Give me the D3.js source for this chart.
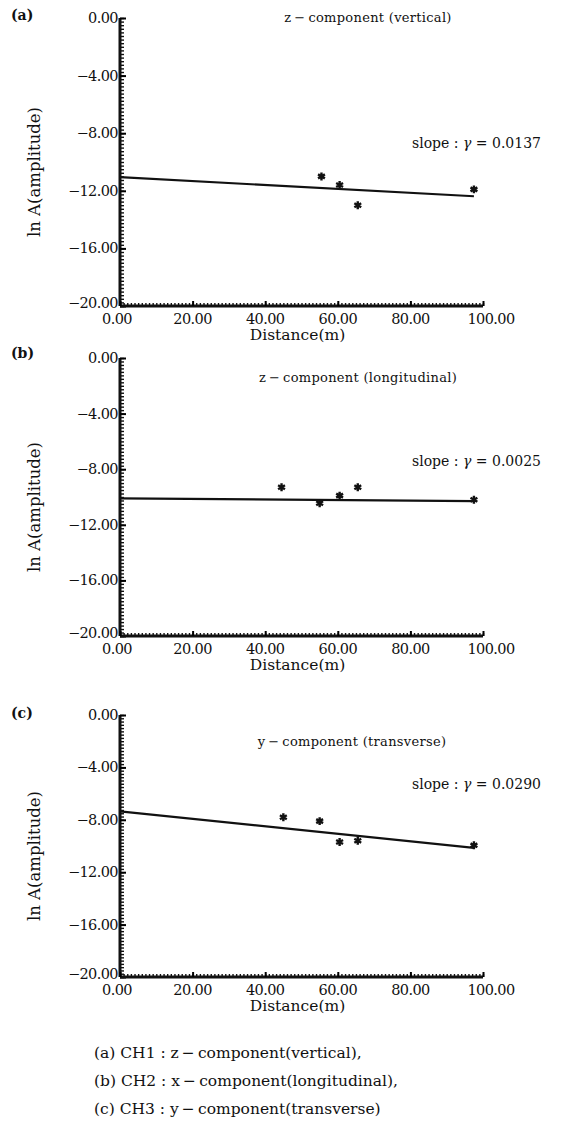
<!DOCTYPE html>
<html>
<head>
<meta charset="utf-8">
<script src="https://cdn.jsdelivr.net/npm/d3@7"></script>
<style>
  body { margin: 0; background: #fff; }
  svg text { font-family: "DejaVu Serif", "Liberation Serif", serif; fill: #111; }
</style>
</head>
<body>
<div id="chart"></div>
<script>
// panel data
var panelTags = ["(a)", "(b)", "(c)"];
var panelTitles = ["z\u2009\u2212\u2009component (vertical)", "z\u2009\u2212\u2009component (longitudinal)", "y\u2009\u2212\u2009component (transverse)"];
var slopeValues = ["0.0137", "0.0025", "0.0290"];

var distA = [55.5, 60.5, 65.5, 97.5];
var ampA = [-11.0, -11.6, -13.0, -11.9];
var distB = [44.5, 55, 60.5, 65.5, 97.5];
var ampB = [-9.3, -10.45, -9.9, -9.3, -10.2];
var distC = [45, 55, 60.5, 65.5, 97.5];
var ampC = [-7.8, -8.1, -9.7, -9.6, -9.95];

// fitted lines: [start x, start y, end x, end y]
var fitA = [[0, -11.05], [97.5, -12.38]];
var fitB = [[0, -10.1], [97.5, -10.3]];
var fitC = [[0, -7.35], [97.5, -10.15]];

var xTicks = [0, 20, 40, 60, 80, 100];
var xTickLabels = ["0.00", "20.00", "40.00", "60.00", "80.00", "100.00"];
var yTicks = [0, -4, -8, -12, -16, -20];
var yTickLabels = ["0.00", "\u22124.00", "\u22128.00", "\u221212.00", "\u221216.00", "\u221220.00"];

var captions = [
  "(a) CH1 : z\u2009\u2212\u2009component(vertical),",
  "(b) CH2 : x\u2009\u2212\u2009component(longitudinal),",
  "(c) CH3 : y\u2009\u2212\u2009component(transverse)"
];

var svgWidth = 565;
var svgHeight = 1136;

var svg = d3.select("#chart").append("svg")
  .attr("width", svgWidth)
  .attr("height", svgHeight);

// pixel frame of each panel (y top = 0.00, y bottom = -20.00)
var panels = [
  { top: 18, bottom: 306, dist: distA, amp: ampA, fit: fitA, tagY: 20, titleY: 22, slopeY: 148 },
  { top: 358, bottom: 636, dist: distB, amp: ampB, fit: fitB, tagY: 358, titleY: 382, slopeY: 466 },
  { top: 715, bottom: 977, dist: distC, amp: ampC, fit: fitC, tagY: 718, titleY: 746, slopeY: 789 }
];
var left = 120, right = 483;

panels.forEach(function(p, i) {
  var g = svg.append("g");

  var x = d3.scaleLinear().domain([0, 100]).range([left, right]);
  var y = d3.scaleLinear().domain([-20, 0]).range([p.bottom, p.top]);

  // minor ticks on the inside of the y axis
  g.append("g")
    .attr("transform", "translate(" + left + ",0)")
    .call(d3.axisRight(y).tickValues(d3.range(-20, 0.01, 0.25)).tickSize(4).tickFormat(""))
    .call(function(a) { a.select(".domain").remove(); })
    .selectAll("line").attr("stroke", "#111").attr("stroke-width", 1.4);

  // y axis
  g.append("g")
    .attr("transform", "translate(" + left + ",0)")
    .call(d3.axisRight(y).tickValues(yTicks).tickSize(6).tickFormat(""))
    .call(function(a) {
      a.select(".domain").attr("stroke", "#111").attr("stroke-width", 3).attr("d", "M0," + p.top + "V" + p.bottom);
      a.selectAll("line").attr("stroke-width", 2);
    });

  g.selectAll(".ylab")
    .data(yTicks)
    .enter()
    .append("text")
    .attr("x", left - 2)
    .attr("y", function(d) { return y(d) + (d === -20 ? 2 : 5); })
    .attr("text-anchor", "end")
    .style("font-size", "14.5px")
    .style("letter-spacing", "-0.6px")
    .text(function(d, k) { return yTickLabels[k]; });

  // minor ticks on the inside of the x axis
  g.append("g")
    .attr("transform", "translate(0," + p.bottom + ")")
    .call(d3.axisTop(x).tickValues(d3.range(0, 100.01, 1)).tickSize(3).tickFormat(""))
    .call(function(a) { a.select(".domain").remove(); })
    .selectAll("line").attr("stroke", "#111").attr("stroke-width", 1.4);

  g.append("g")
    .attr("transform", "translate(0," + p.bottom + ")")
    .call(d3.axisTop(x).tickValues(xTicks).tickSize(5).tickFormat(""))
    .call(function(a) {
      a.select(".domain").attr("stroke", "#111").attr("stroke-width", 3).attr("d", "M" + left + ",0H" + right);
      a.selectAll("line").attr("stroke-width", 2);
    });

  g.selectAll(".xlab")
    .data(xTicks)
    .enter()
    .append("text")
    .attr("x", function(d) { return x(d) + (d === 100 ? 8 : (d === 0 ? -3 : 0)); })
    .attr("y", p.bottom + 18)
    .attr("text-anchor", "middle")
    .style("font-size", "14.5px")
    .style("letter-spacing", "-0.6px")
    .text(function(d, k) { return xTickLabels[k]; });

  // axis titles
  g.append("text")
    .attr("x", (left + right) / 2 - 4)
    .attr("y", p.bottom + 34)
    .attr("text-anchor", "middle")
    .style("font-size", "15.5px")
    .text("Distance(m)");

  g.append("text")
    .attr("transform", "translate(40," + ((p.top + p.bottom) / 2 + 10) + ") rotate(-90)")
    .attr("text-anchor", "middle")
    .style("font-size", "16.5px")
    .text("ln A(amplitude)");

  // panel tag and title
  g.append("text")
    .attr("x", 11)
    .attr("y", p.tagY)
    .style("font-size", "14px")
    .style("font-weight", "bold")
    .text(panelTags[i]);

  g.append("text")
    .attr("x", 368 - (i === 2 ? 16 : (i === 1 ? 10 : 0)))
    .attr("y", p.titleY)
    .attr("text-anchor", "middle")
    .style("font-size", "13px")
    .style("letter-spacing", "0.3px")
    .text(panelTitles[i]);

  var slope = g.append("text")
    .attr("x", 412)
    .attr("y", p.slopeY)
    .style("font-size", "14px");
  slope.append("tspan").text("slope : ");
  slope.append("tspan").style("font-style", "italic").text("\u03b3");
  slope.append("tspan").text(" = " + slopeValues[i]);

  // fitted line
  var line = d3.line()
    .x(function(d) { return x(d[0]); })
    .y(function(d) { return y(d[1]); });

  g.append("path")
    .datum(p.fit)
    .attr("d", line)
    .attr("fill", "none")
    .attr("stroke", "#111")
    .attr("stroke-width", 2.2);

  // measured points
  g.selectAll(".pt")
    .data(p.dist)
    .enter()
    .append("path")
    .attr("transform", function(d, k) { return "translate(" + x(d) + "," + y(p.amp[k]) + ")"; })
    .attr("d", d3.symbol(d3.symbolAsterisk).size(44))
    .attr("fill", "none")
    .attr("stroke", "#111")
    .attr("stroke-width", 2.4);
});

// captions below the panels
svg.selectAll(".cap")
  .data(captions)
  .enter()
  .append("text")
  .attr("x", 94)
  .attr("y", function(d, k) { return 1058 + k * 28; })
  .style("font-size", "15.5px")
  .text(function(d) { return d; });
</script>
</body>
</html>
